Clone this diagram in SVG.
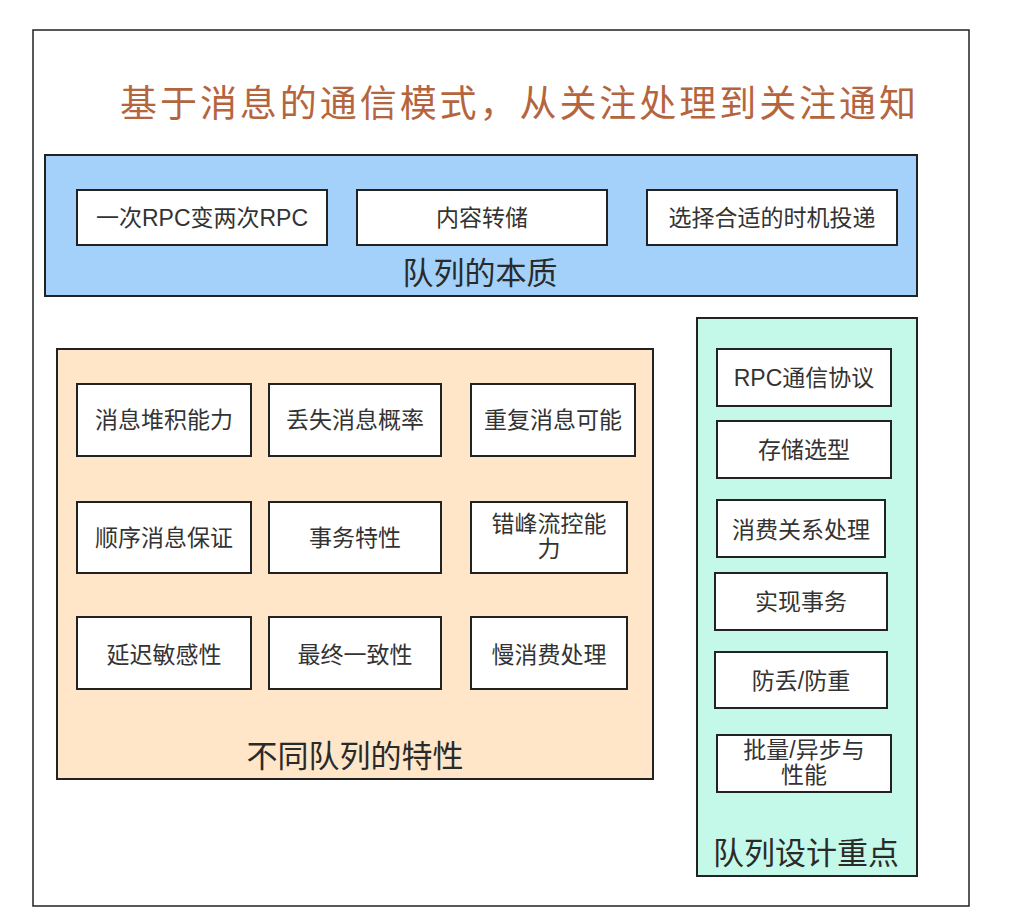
<svg xmlns="http://www.w3.org/2000/svg" width="1026" height="922" viewBox="0 0 1026 922">
<style>
text{font-family:"Liberation Sans","Noto Sans CJK SC",sans-serif;fill:#333;text-anchor:middle}
.box{fill:#fff;stroke:#222;stroke-width:2}
.t{font-size:23px}
.lbl{font-size:31px;fill:#2a2a2a}
</style>
<rect x="0" y="0" width="1026" height="922" fill="#fff"/>
<rect id="frame" x="33" y="30" width="936" height="876" fill="#fff" stroke="#222" stroke-width="1.5"/>
<text id="title" x="518" y="117" textLength="796" lengthAdjust="spacing" style="font-size:37px;fill:#b5653e">基于消息的通信模式，从关注处理到关注通知</text>
<g id="essence">
<rect x="45" y="155" width="872" height="141" fill="#a3d1fa" stroke="#222" stroke-width="2"/>
<text class="lbl" x="480" y="284">队列的本质</text>
</g>
<g id="n1"><rect class="box" x="77" y="190" width="250" height="55"/><text class="t" x="202" y="226">一次RPC变两次RPC</text></g>
<g id="n2"><rect class="box" x="357" y="190" width="250" height="55"/><text class="t" x="482" y="226">内容转储</text></g>
<g id="n3"><rect class="box" x="647" y="190" width="250" height="55"/><text class="t" x="772" y="226">选择合适的时机投递</text></g>
<g id="features">
<rect x="57" y="349" width="596" height="430" fill="#ffe6c8" stroke="#222" stroke-width="2"/>
<text class="lbl" x="355" y="767">不同队列的特性</text>
</g>
<g id="f1"><rect class="box" x="77" y="384" width="174" height="72"/><text class="t" x="164" y="428">消息堆积能力</text></g>
<g id="f2"><rect class="box" x="269" y="384" width="172" height="72"/><text class="t" x="355" y="428">丢失消息概率</text></g>
<g id="f3"><rect class="box" x="471" y="384" width="164" height="72"/><text class="t" x="553" y="428">重复消息可能</text></g>
<g id="f4"><rect class="box" x="77" y="502" width="174" height="71"/><text class="t" x="164" y="546">顺序消息保证</text></g>
<g id="f5"><rect class="box" x="269" y="502" width="172" height="71"/><text class="t" x="355" y="546">事务特性</text></g>
<g id="f6"><rect class="box" x="471" y="502" width="156" height="71"/><text class="t" x="549" y="532">错峰流控能</text><text class="t" x="549" y="557">力</text></g>
<g id="f7"><rect class="box" x="77" y="617" width="174" height="72"/><text class="t" x="164" y="663">延迟敏感性</text></g>
<g id="f8"><rect class="box" x="269" y="617" width="172" height="72"/><text class="t" x="355" y="663">最终一致性</text></g>
<g id="f9"><rect class="box" x="471" y="617" width="156" height="72"/><text class="t" x="549" y="663">慢消费处理</text></g>
<g id="design">
<rect x="697" y="318" width="220" height="558" fill="#c4f8e8" stroke="#222" stroke-width="2"/>
<text class="lbl" x="806" y="864">队列设计重点</text>
</g>
<g id="d1"><rect class="box" x="717" y="349" width="174" height="57"/><text class="t" x="804" y="386">RPC通信协议</text></g>
<g id="d2"><rect class="box" x="717" y="421" width="174" height="57"/><text class="t" x="804" y="458">存储选型</text></g>
<g id="d3"><rect class="box" x="717" y="500" width="168" height="57"/><text class="t" x="801" y="538">消费关系处理</text></g>
<g id="d4"><rect class="box" x="715" y="573" width="172" height="57"/><text class="t" x="801" y="610">实现事务</text></g>
<g id="d5"><rect class="box" x="715" y="652" width="172" height="56"/><text class="t" x="801" y="689">防丢/防重</text></g>
<g id="d6"><rect class="box" x="717" y="735" width="174" height="57"/><text class="t" x="804" y="758">批量/异步与</text><text class="t" x="804" y="783">性能</text></g>
<g id="connectors"></g>
</svg>
